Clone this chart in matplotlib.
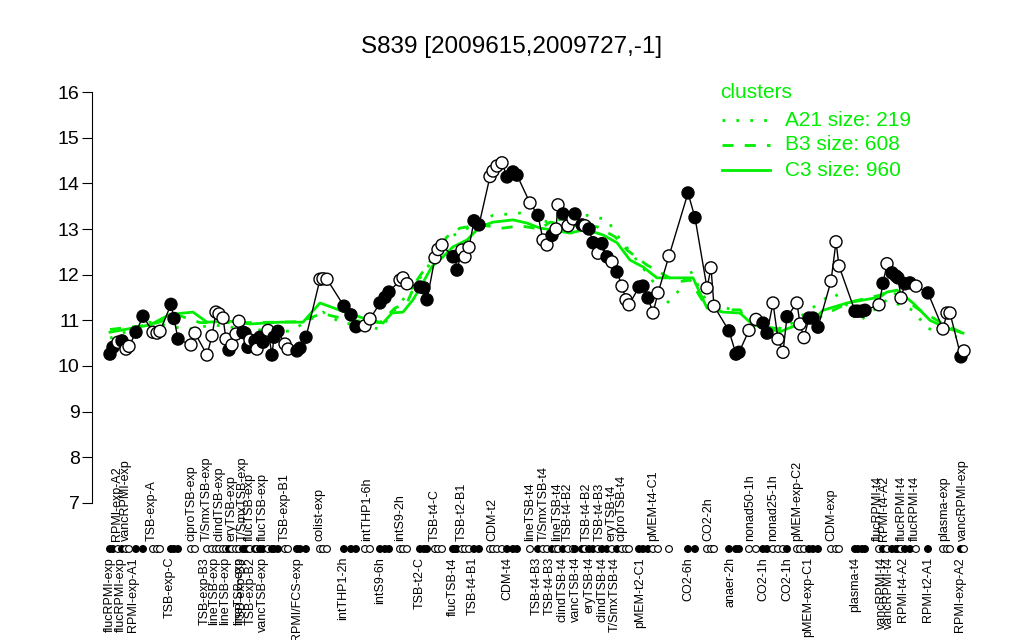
import matplotlib.pyplot as plt
from matplotlib.lines import Line2D

plt.rcParams['font.family'] = ['Liberation Sans', 'DejaVu Sans']

# sample positions along the x axis, expression values, filled marker flag
pos = [110, 113, 118, 122, 126, 129, 136, 143,
       153, 157, 160, 171, 174, 178, 191, 195,
       207, 212, 216, 219, 223, 226, 229, 232, 236, 239, 243, 245, 248, 250,
       255, 257, 260, 263, 268, 272, 274, 278, 285, 288,
       297, 300, 306, 320, 323, 327, 344, 351, 356, 365, 370,
       380, 385, 389, 400, 403, 407, 420, 424, 427, 435, 438, 442,
       453, 455, 457, 462, 465, 469, 474, 479,
       490, 493, 497, 502, 507, 513, 517, 530,
       538, 543, 547, 552, 556, 558, 563, 568, 573, 575, 582, 585, 589,
       593, 598, 602, 607, 612, 617, 622, 626, 629,
       639, 643, 648, 653, 658, 669, 688, 695, 707, 711, 714,
       729, 736, 739, 749, 756, 763, 767, 773, 778, 783, 787,
       797, 800, 804, 809, 813, 818, 831, 836, 839,
       855, 858, 862, 865, 879, 883, 887, 892, 896, 898, 901, 905, 910, 916,
       928, 943, 947, 950, 961, 964]
expr = [10.26, 10.41, 10.52, 10.55, 10.37, 10.43, 10.74, 11.09,
        10.74, 10.72, 10.76, 11.35, 11.04, 10.59, 10.46, 10.72,
        10.24, 10.66, 11.18, 11.14, 11.05, 10.59, 10.35, 10.46, 10.70, 10.98, 10.74, 10.72, 10.41, 10.57,
        10.55, 10.37, 10.63, 10.52, 10.78, 10.24, 10.63, 10.76, 10.48, 10.37,
        10.33, 10.39, 10.63, 11.90, 11.91, 11.90, 11.31, 11.12, 10.86, 10.88, 11.03,
        11.38, 11.50, 11.62, 11.88, 11.93, 11.80, 11.73, 11.71, 11.45, 12.37, 12.55, 12.65,
        12.39, 12.40, 12.10, 12.54, 12.39, 12.60, 13.18, 13.09,
        14.15, 14.27, 14.38, 14.45, 14.14, 14.25, 14.18, 13.57,
        13.30, 12.76, 12.65, 12.86, 13.00, 13.53, 13.33, 13.07, 13.22, 13.33, 13.09, 13.07, 13.00,
        12.70, 12.47, 12.68, 12.39, 12.28, 12.06, 11.75, 11.45, 11.34,
        11.73, 11.75, 11.49, 11.16, 11.60, 12.41, 13.79, 13.25, 11.71, 12.15, 11.31,
        10.77, 10.26, 10.30, 10.78, 11.02, 10.94, 10.72, 11.38, 10.59, 10.30, 11.08,
        11.38, 10.92, 10.62, 11.05, 11.05, 10.85, 11.86, 12.72, 12.19,
        11.20, 11.20, 11.20, 11.22, 11.34, 11.81, 12.24, 12.04, 11.97, 11.93, 11.49, 11.80, 11.82, 11.75,
        11.60, 10.81, 11.16, 11.16, 10.20, 10.33]
filled = [1, 1, 0, 1, 0, 0, 1, 1,
          0, 0, 0, 1, 1, 1, 0, 0,
          0, 0, 0, 0, 0, 0, 1, 0, 0, 0, 1, 1, 1, 0,
          1, 0, 1, 1, 0, 1, 1, 1, 0, 0,
          1, 1, 1, 0, 0, 0, 1, 1, 1, 0, 0,
          1, 1, 1, 0, 0, 0, 1, 1, 1, 0, 0, 0,
          1, 1, 1, 0, 0, 0, 1, 1,
          0, 0, 0, 0, 1, 1, 1, 0,
          1, 0, 0, 1, 0, 0, 1, 0, 0, 1, 1, 0, 1,
          1, 0, 1, 1, 0, 1, 0, 0, 0,
          1, 1, 1, 0, 0, 0, 1, 1, 0, 0, 0,
          1, 1, 1, 0, 0, 1, 1, 0, 0, 0, 1,
          0, 0, 0, 1, 1, 1, 0, 0, 0,
          1, 1, 1, 1, 0, 1, 0, 1, 1, 1, 0, 1, 1, 0,
          1, 0, 0, 0, 1, 0]

# sample names printed above / below the marker row
top_pos = [117, 126, 152, 191, 207, 220, 232, 243, 250, 263, 285, 320,
           367, 400, 435, 462, 492, 530, 544, 557, 568, 587, 600, 612, 622,
           653, 708, 750, 773, 797, 831, 878, 884, 902, 915, 944, 963]
top_text = ['RPMI-exp-A2', 'vancRPMI-exp', 'TSB-exp-A', 'ciproTSB-exp', 'T/SmxTSB-exp',
            'clindTSB-exp', 'eryTSB-exp', 'T/SmxTSB-exp', 'flucTSB-exp', 'flucTSB-exp',
            'TSB-exp-B1', 'colist-exp', 'intTHP1-6h', 'intS9-2h', 'TSB-t4-C', 'TSB-t2-B1',
            'CDM-t2', 'lineTSB-t4', 'T/SmxTSB-t4', 'lineTSB-t4', 'TSB-t4-B2', 'TSB-t4-B2',
            'TSB-t4-B3', 'eryTSB-t4', 'ciproTSB-t4', 'pMEM-t4-C1', 'CO2-2h', 'nonad50-1h',
            'nonad25-1h', 'pMEM-exp-C2', 'CDM-exp', 'flucRPMI-t4', 'RPMI-t4-A2',
            'flucRPMI-t4', 'flucRPMI-t4', 'plasma-exp', 'vancRPMI-exp']
bottom_pos = [110, 121, 133, 170, 205, 214, 225, 239, 242, 251, 263, 297,
              343, 380, 420, 453, 473, 507, 537, 550, 562, 576, 589, 603, 615,
              640, 688, 730, 763, 787, 808, 855, 882, 889, 903, 928, 960]
bottom_text = ['flucRPMI-exp', 'flucRPMI-exp', 'RPMI-exp-A1', 'TSB-exp-C', 'TSB-exp-B3',
               'lineTSB-exp', 'lineTSB-exp', 'lineTSB-exp', 'TSB-exp-B3', 'TSB-exp-B2',
               'vancTSB-exp', 'RPMI/FCS-exp', 'intTHP1-2h', 'intS9-6h', 'TSB-t2-C',
               'flucTSB-t4', 'TSB-t4-B1', 'CDM-t4', 'TSB-t4-B3', 'TSB-t4-B3', 'clindTSB-t4',
               'vancTSB-t4', 'eryTSB-t4', 'clindTSB-t4', 'T/SmxTSB-t4', 'pMEM-t2-C1',
               'CO2-6h', 'anaer-2h', 'CO2-1h', 'CO2-1h', 'pMEM-exp-C1', 'plasma-t4',
               'vancRPMI-t4', 'vancRPMI-t4', 'RPMI-t4-A2', 'RPMI-t2-A1', 'RPMI-exp-A2']

# cluster mean profiles
c3_x = [110, 150, 170, 193, 207, 230, 250, 280, 303, 320, 340, 363, 383, 392, 403, 413,
        420, 432, 443, 453, 467, 480, 493, 513, 527, 540, 553, 570, 583, 593, 603, 617,
        630, 643, 657, 677, 693, 707, 723, 740, 753, 767, 780, 797, 813, 823, 847, 880,
        887, 897, 913, 930, 947, 963]
c3_y = [10.74, 10.9, 11.13, 11.18, 10.96, 10.98, 10.92, 10.96, 10.96, 11.38, 11.22, 11.05,
        10.94, 11.16, 11.18, 11.45, 11.71, 12.18, 12.39, 12.61, 12.76, 13.05, 13.15, 13.2,
        13.13, 13.02, 12.98, 12.91, 12.98, 12.94, 12.87, 12.7, 12.32, 12.17, 11.93, 11.93,
        11.93, 11.27, 11.18, 11.16, 10.9, 10.83, 10.75, 10.9, 11.0, 11.22, 11.38, 11.51,
        11.62, 11.66, 11.38, 11.0, 10.83, 10.72]
b3_x = [110, 150, 180, 200, 250, 300, 322, 350, 380, 395, 407, 417, 447, 460, 480, 503,
        520, 540, 550, 570, 597, 615, 627, 647, 677, 690, 707, 723, 740, 753, 783, 813,
        850, 880, 890, 905, 920, 945, 963]
b3_y = [10.8, 10.9, 11.1, 10.95, 10.95, 10.97, 11.15, 11.0, 10.95, 11.27, 11.38, 11.88,
        12.83, 13.02, 13.09, 13.02, 13.07, 13.0, 13.15, 13.09, 13.05, 12.83, 12.54, 12.21,
        11.84, 11.88, 11.27, 11.23, 11.23, 10.9, 10.8, 11.0, 11.4, 11.55, 11.65, 11.45,
        11.22, 10.9, 10.72]
a21_x = [110, 150, 187, 213, 250, 290, 323, 340, 380, 420, 448, 493, 520, 547, 587, 608,
         613, 650, 667, 677, 690, 707, 737, 783, 833, 843, 858, 887, 913, 927, 957]
a21_y = [10.61, 10.96, 10.8, 10.9, 10.8, 10.76, 11.18, 10.96, 10.81, 11.93, 12.8, 13.3,
         13.35, 13.16, 13.3, 13.2, 12.98, 11.95, 11.38, 11.6, 12.1, 11.4, 11.2, 10.8,
         11.6, 11.45, 10.96, 11.45, 11.22, 10.83, 10.63]

W, H = 1024, 640
fig = plt.figure(figsize=(W / 100, H / 100), dpi=100)
ax_top, ax_bot = 75.6, 519.4
ax = fig.add_axes([92 / W, 1 - ax_bot / H, 888 / W, (ax_bot - ax_top) / H])
ax.set_xlim(92, 980)
ax.set_ylim(6.64, 16.36)

green = '#00ee00'
ax.plot(a21_x, a21_y, color=green, lw=2, ls=(0, (1, 4)))
ax.plot(b3_x, b3_y, color=green, lw=2, ls=(0, (4, 4)))
ax.plot(c3_x, c3_y, color=green, lw=2, ls='-')

ax.plot(pos, expr, color='black', lw=1, zorder=3)
fc = ['black' if f else 'white' for f in filled]
ax.scatter(pos, expr, s=75, c=fc, edgecolors='black', linewidths=1, zorder=4)

# marker row below the plot
tr = ax.get_xaxis_transform()
row_y = (ax_bot - 549) / (ax_bot - ax_top)
ax.scatter(pos, [row_y] * len(pos), s=24, c=fc, edgecolors='black', linewidths=0.8,
           transform=tr, clip_on=False, zorder=4)
top_y = (ax_bot - 541) / (ax_bot - ax_top)
bot_y = (ax_bot - 557) / (ax_bot - ax_top)
for x, t in zip(top_pos, top_text):
    ax.text(x, top_y, t, transform=tr, rotation=90, ha='center', va='bottom', fontsize=9)
for x, t in zip(bottom_pos, bottom_text):
    ax.text(x, bot_y, t, transform=tr, rotation=90, ha='center', va='top', fontsize=9)

for s in ['top', 'right', 'bottom']:
    ax.spines[s].set_visible(False)
ax.spines['left'].set_bounds(7, 16)
ax.set_xticks([])
ax.set_yticks(range(7, 17))
ax.tick_params(axis='y', length=7, labelsize=14, pad=2)

fig.text(512 / W, 1 - 47 / H, 'S839 [2009615,2009727,-1]', ha='center', va='center', fontsize=17.5)

# legend
fig.text(720 / W, 1 - 92 / H, 'clusters', color=green, ha='left', va='center', fontsize=15)
leg = [('A21 size: 219', (0, (1, 4)), 120), ('B3 size: 608', (0, (4, 4)), 145),
       ('C3 size: 960', '-', 170)]
for label, style, py in leg:
    fig.add_artist(Line2D([722 / W, 770 / W], [1 - py / H] * 2, color=green, lw=2, ls=style,
                          transform=fig.transFigure))
    fig.text(785 / W, 1 - py / H, label, color=green, ha='left', va='center', fontsize=15)

fig.savefig('out.png', dpi=100)
